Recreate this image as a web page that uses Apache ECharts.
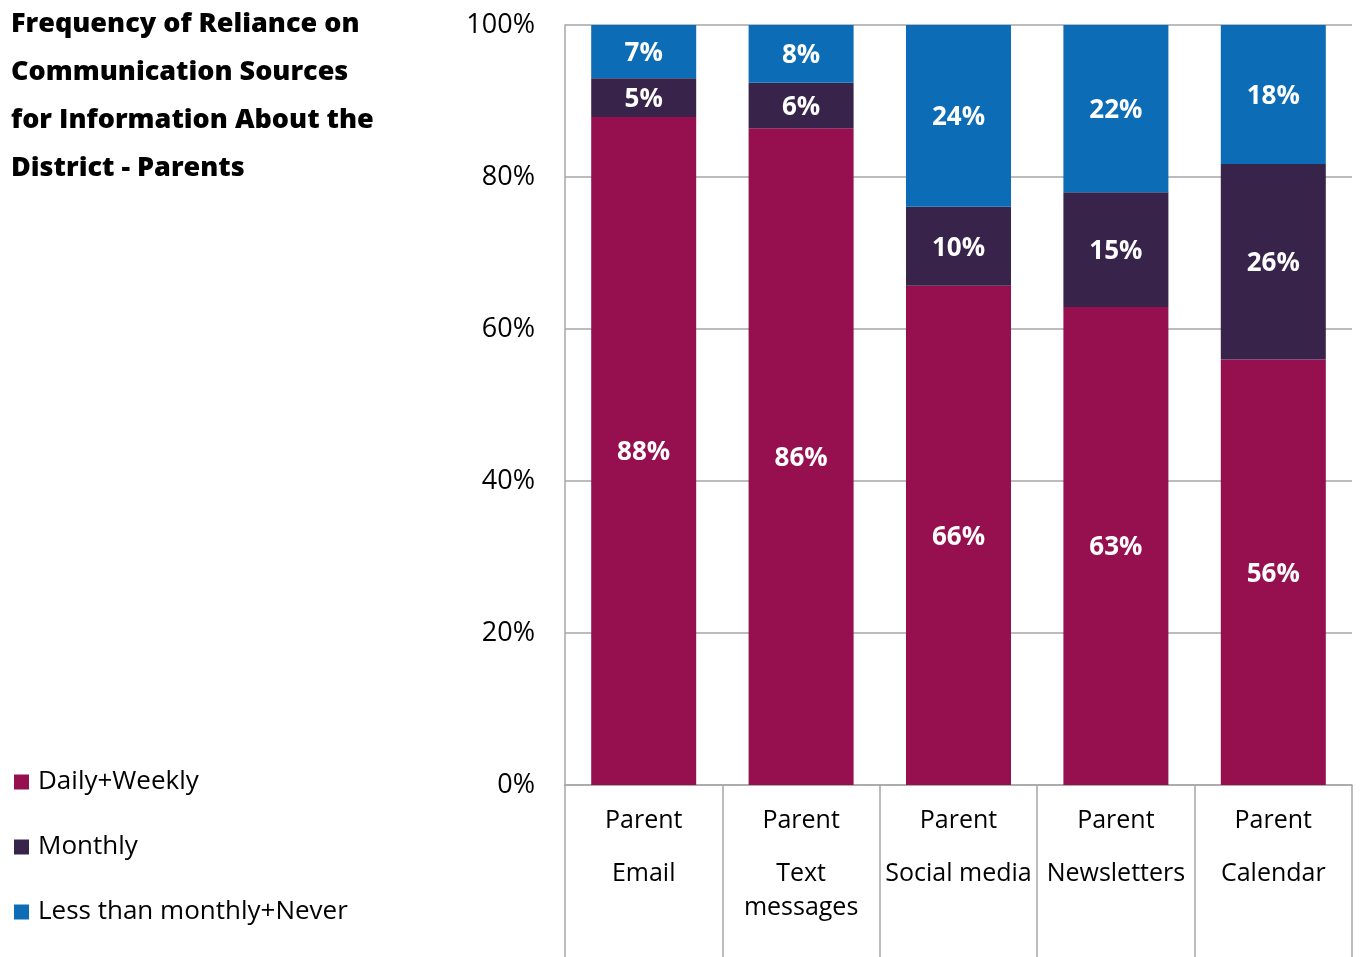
<!DOCTYPE html>
<html><head><meta charset="utf-8">
<script src="https://cdn.jsdelivr.net/npm/echarts@6/dist/echarts.min.js"></script>
<style>html,body{margin:0;padding:0;background:#fff}#c{width:1361px;height:957px}</style>
</head><body><div id="c"></div>
<script>
const categories = ['Email', 'Text\nmessages', 'Social media', 'Newsletters', 'Calendar'];
const groupLabel = 'Parent';
const seriesNames = ['Daily+Weekly', 'Monthly', 'Less than monthly+Never'];
const dailyWeekly = [87.9, 86.4, 65.7, 62.9, 56.0];
const monthly = [5.1, 6.0, 10.4, 15.1, 25.7];
const lessThanMonthly = [7.0, 7.6, 23.9, 22.0, 18.3];
const yTicks = [0, 20, 40, 60, 80, 100];
const colors = ['#960F4F', '#38234A', '#0C6CB5'];
const titleText = 'Frequency of Reliance on\nCommunication Sources\nfor Information About the\nDistrict - Parents';

const font = '"Open Sans", "Noto Sans", sans-serif';
const chart = echarts.init(document.getElementById('c'), null, {renderer: 'canvas'});
const values = [dailyWeekly, monthly, lessThanMonthly];
chart.setOption({
  animation: false,
  backgroundColor: '#fff',
  title: {
    text: titleText, left: 11, top: 0, padding: 0,
    textStyle: {fontFamily: '"Open Sans", sans-serif', fontWeight: 800, fontSize: 27, lineHeight: 48, color: '#000'}
  },
  legend: {
    orient: 'vertical', left: 9, top: 764, itemGap: 39,
    itemWidth: 15, itemHeight: 15, icon: 'rect',
    data: seriesNames,
    textStyle: {fontFamily: font, fontSize: 26, color: '#000', padding: [0, 0, 0, 4]}
  },
  grid: {left: 565, right: 9, top: 25, bottom: 172, containLabel: false},
  xAxis: {
    type: 'category', data: categories,
    axisLine: {lineStyle: {color: '#A6A6A6', width: 1.5}},
    axisTick: {show: true, length: 175, lineStyle: {color: '#A6A6A6', width: 1.5}},
    axisLabel: {
      margin: 0, interval: 0,
      formatter: v => '{p|' + groupLabel + '}\n' + v.split('\n').map(s => '{c|' + s + '}').join('\n'),
      rich: {
        p: {fontFamily: font, fontSize: 25, lineHeight: 72, color: '#000'},
        c: {fontFamily: font, fontSize: 25, lineHeight: 34, color: '#000'}
      }
    }
  },
  yAxis: {
    type: 'value', min: 0, max: 100, interval: 20,
    axisLine: {show: true, lineStyle: {color: '#A6A6A6', width: 1.5}},
    axisTick: {show: false},
    splitLine: {lineStyle: {color: '#A6A6A6', width: 1.5}},
    axisLabel: {margin: 30, fontFamily: font, fontSize: 27, color: '#000',
      formatter: v => yTicks.includes(v) ? v + '%' : ''}
  },
  series: values.map((arr, i) => ({
    name: seriesNames[i], type: 'bar', stack: 'total', data: arr,
    barWidth: 105,
    itemStyle: {color: colors[i]},
    label: {show: true, position: 'inside', color: '#fff', fontFamily: font, fontWeight: 'bold', fontSize: 26,
      offset: [0, 2],
      formatter: p => Math.round(p.value) + '%'}
  }))
});
</script></body></html>
